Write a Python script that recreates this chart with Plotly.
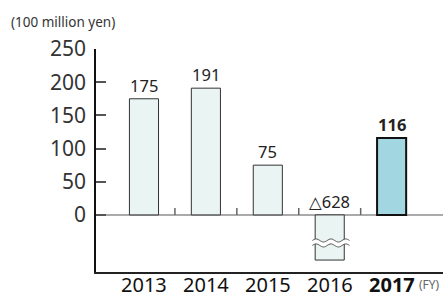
import math
import plotly.graph_objects as go

# ---- data ----
years = ["2013", "2014", "2015", "2016", "2017"]
values = [175, 191, 75, -628, 116]
highlight = [False, False, False, False, True]
y_ticks = [0, 50, 100, 150, 200, 250]
unit_label = "(100 million yen)"
fy_label = "(FY)"

# axis-break settings (display only)
break_floor = -68          # truncated bottom of very negative bars
break_upper = -38.5
break_lower = -46
y_min, y_max = -86, 250

idx = list(range(len(years)))
disp = [max(v, break_floor) for v in values]

fill = ["#a2d7e2" if h else "#eaf4f2" for h in highlight]
lcol = ["#111111" if h else "#333333" for h in highlight]
lw = [2 if h else 1 for h in highlight]

fig = go.Figure()
fig.add_trace(go.Bar(
    x=idx, y=disp, width=0.47,
    marker=dict(color=fill, line=dict(color=lcol, width=lw)),
    hoverinfo="skip", showlegend=False,
))

FONT = "Noto Sans, DejaVu Sans, sans-serif"

annotations = []
for i, v in enumerate(values):
    txt = f"{v}" if v >= 0 else f"△{abs(v)}"
    if highlight[i]:
        txt = f"<b>{txt}</b>"
    annotations.append(dict(
        x=i, y=max(v, 0), xref="x", yref="y", text=txt, showarrow=False,
        yanchor="bottom", xanchor="center", yshift=0,
        font=dict(family=FONT, size=16.5, color="#222222"),
    ))
# category labels below the axis
for i, y in enumerate(years):
    txt = f"<b>{y}</b>" if highlight[i] else y
    annotations.append(dict(
        x=i, y=-0.057, xref="x", yref="paper", text=txt, showarrow=False,
        yanchor="middle", xanchor="center",
        font=dict(family=FONT, size=20, color="#111111"),
    ))
annotations.append(dict(
    x=-0.25, y=1.121, xref="paper", yref="paper", text=unit_label,
    showarrow=False, xanchor="left", yanchor="middle",
    font=dict(family=FONT, size=13.5, color="#333333"),
))
annotations.append(dict(
    x=0.925, y=-0.057, xref="paper", yref="paper", text=fy_label,
    showarrow=False, xanchor="left", yanchor="middle",
    font=dict(family=FONT, size=12, color="#666666"),
))

shapes = []
# small separator ticks on the zero line between categories
for i in range(len(years) - 1):
    shapes.append(dict(type="line", xref="x", yref="y",
                       x0=i + 0.5, x1=i + 0.5, y0=0, y1=10.5,
                       line=dict(color="#666666", width=1.5)))


def wave_pts(xa, xb, yc, amp, periods=2.5, n=40):
    pts = []
    for k in range(n + 1):
        t = k / n
        x = xa + (xb - xa) * t
        y = yc + amp * math.sin(2 * math.pi * periods * t)
        pts.append((x, y))
    return pts


for i, v in enumerate(values):
    if v < break_floor:
        xa, xb = i - 0.28, i + 0.32
        up = wave_pts(xa, xb, break_upper, 2.3)
        lo = wave_pts(xa, xb, break_lower, 2.3)
        path = "M " + " L ".join(f"{x},{y}" for x, y in up)
        path += " L " + " L ".join(f"{x},{y}" for x, y in reversed(lo)) + " Z"
        shapes.append(dict(type="path", xref="x", yref="y", path=path,
                           fillcolor="white", line=dict(width=0)))
        for pts in (up, lo):
            p = "M " + " L ".join(f"{x},{y}" for x, y in pts)
            shapes.append(dict(type="path", xref="x", yref="y", path=p,
                               line=dict(color="#555555", width=1)))

fig.update_layout(
    width=443, height=293,
    margin=dict(l=96, r=0, t=49, b=21, autoexpand=False),
    paper_bgcolor="white", plot_bgcolor="white",
    annotations=annotations, shapes=shapes,
    xaxis=dict(
        range=[-0.775, 4.83], tickvals=idx, showticklabels=False,
        showline=True, linecolor="#222222", linewidth=2,
        showgrid=False, zeroline=False, ticks="", automargin=False,
        fixedrange=True,
    ),
    yaxis=dict(
        range=[y_min, y_max], tickvals=y_ticks,
        showline=True, linecolor="#111111", linewidth=1.5,
        showgrid=False, zeroline=True, zerolinecolor="#aaaaaa", zerolinewidth=2,
        ticks="inside", ticklen=10, tickcolor="#555555", tickwidth=1.5,
        tickfont=dict(family=FONT, size=21, color="#333333"),
        ticklabelstandoff=4, automargin=False,
        fixedrange=True,
    ),
)

fig.write_html(
    "out.html",
    config={"displayModeBar": False},
    post_script="document.body.style.margin='0';document.body.style.overflow='hidden';",
)
